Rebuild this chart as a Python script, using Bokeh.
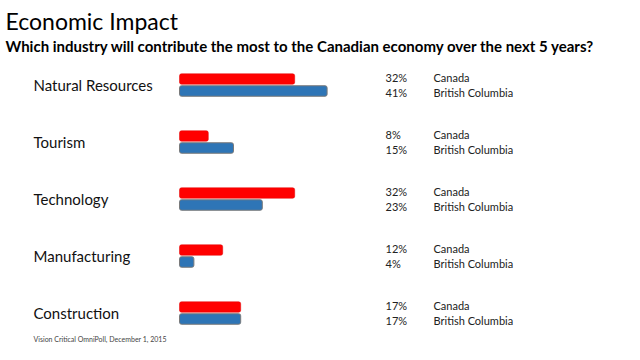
from bokeh.plotting import figure
from bokeh.models import ColumnDataSource, Range1d, Label
from bokeh.core.properties import value
from bokeh.embed import file_html
from bokeh.resources import INLINE

# ---- data ----
categories = ["Natural Resources", "Tourism", "Technology", "Manufacturing", "Construction"]
canada = [32, 8, 32, 12, 17]
british_columbia = [41, 15, 23, 4, 17]
series_names = ["Canada", "British Columbia"]

# ---- layout constants (pixels) ----
W, H = 624, 344
PX_PER_PCT = 3.6
X0_PX = 179          # where 0% sits
GROUP_PX = 57        # spacing between groups
TOP0_PX = 84.5       # first group center from top

def px_x(px):
    return (px - X0_PX) / PX_PER_PCT

def px_dy(px):
    return px / GROUP_PX

FONT = "Lato"

p = figure(width=W, height=H, output_backend="svg", toolbar_location=None,
           x_range=Range1d(px_x(0), px_x(W)),
           y_range=Range1d(-(H - TOP0_PX) / GROUP_PX, TOP0_PX / GROUP_PX),
           min_border=0, border_fill_color="white", outline_line_color=None)
p.axis.visible = False
p.grid.visible = False

ys = [-i for i in range(len(categories))]
src = ColumnDataSource(dict(
    cat=categories, y=ys,
    y_red=[y + px_dy(6) for y in ys],
    y_blue=[y - px_dy(6) for y in ys],
    y_red_t=[y + px_dy(7.5) for y in ys],
    y_blue_t=[y - px_dy(7) for y in ys],
    can=canada, bc=british_columbia,
    can_lbl=[f"{v}%" for v in canada],
    bc_lbl=[(f"{v}%" if v >= 10 else f" {v}%") for v in british_columbia],
    can_name=[series_names[0]] * len(categories),
    bc_name=[series_names[1]] * len(categories),
))

bar_h = px_dy(10.5)
p.hbar(y="y_red", left=0, right="can", height=bar_h, source=src,
       fill_color="#FF0000", line_color="#E00000", line_width=0.5, border_radius=2)
p.hbar(y="y_blue", left=0, right="bc", height=bar_h, source=src,
       fill_color="#2E75B6", line_color="#7A7A7A", line_width=1, border_radius=2)

p.text(x=px_x(33), y="y", text="cat", source=src, text_font=value(FONT),
       text_font_size="15px", text_color="#111111", text_baseline="middle", text_align="left")

p.text(x=px_x(385), y="y_red_t", text="can_lbl", source=src, text_font=value(FONT),
       text_font_size="11px", text_color="#222222", text_baseline="middle")
p.text(x=px_x(385), y="y_blue_t", text="bc_lbl", source=src, text_font=value(FONT),
       text_font_size="11px", text_color="#222222", text_baseline="middle")
p.text(x=px_x(433), y="y_red_t", text="can_name", source=src, text_font=value(FONT),
       text_font_size="11px", text_color="#222222", text_baseline="middle")
p.text(x=px_x(433), y="y_blue_t", text="bc_name", source=src, text_font=value(FONT),
       text_font_size="11px", text_color="#222222", text_baseline="middle")

p.add_layout(Label(x=5, y=H - 20, x_units="screen", y_units="screen",
                   text="Economic Impact", text_font=FONT, text_font_size="23px",
                   text_color="#000000", text_baseline="middle"))
p.add_layout(Label(x=5, y=H - 45, x_units="screen", y_units="screen",
                   text="Which industry will contribute the most to the Canadian economy over the next 5 years?",
                   text_font=FONT, text_font_size="15px", text_font_style="bold",
                   text_color="#000000", text_baseline="middle"))
p.add_layout(Label(x=33, y=H - 338, x_units="screen", y_units="screen",
                   text="Vision Critical OmniPoll, December 1, 2015",
                   text_font=FONT, text_font_size="7px",
                   text_color="#444444", text_baseline="middle"))

open("out.html", "w").write(file_html(p, INLINE))
